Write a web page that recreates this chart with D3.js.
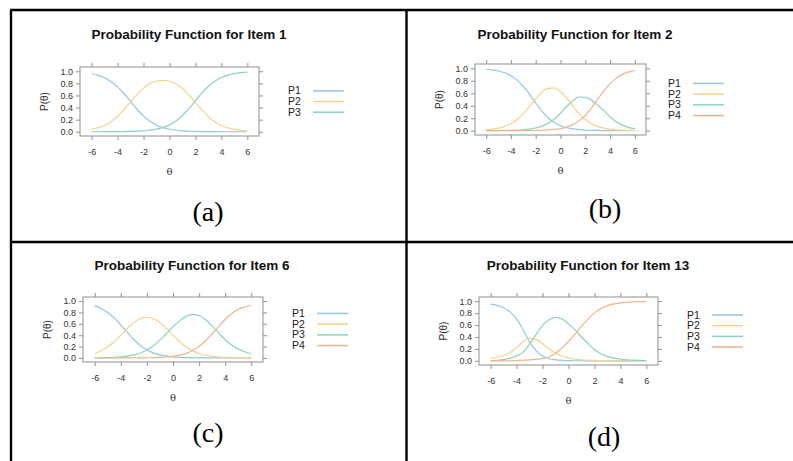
<!DOCTYPE html>
<html>
<head>
<meta charset="utf-8">
<script src="https://cdn.jsdelivr.net/npm/d3@7"></script>
<style>
  body { margin: 0; background: #fff; }
  svg { display: block; }
</style>
</head>
<body>
<div id="chart"></div>
<script>
// values (theta grid in steps of 0.5)
const theta = [-6, -5.5, -5, -4.5, -4, -3.5, -3, -2.5, -2, -1.5, -1, -0.5, 0,
               0.5, 1, 1.5, 2, 2.5, 3, 3.5, 4, 4.5, 5, 5.5, 6];
const seriesNames = ["P1", "P2", "P3", "P4"];
const itemNumbers = [1, 2, 6, 13];
const captions = ["(a)", "(b)", "(c)", "(d)"];
const xTicks = [-6, -4, -2, 0, 2, 4, 6];
const yTicks = [0, 0.2, 0.4, 0.6, 0.8, 1.0];

const item1 = [
  [0.959, 0.932, 0.891, 0.828, 0.741, 0.628, 0.5, 0.372, 0.259, 0.172, 0.109, 0.068, 0.041, 0.025, 0.015, 0.009, 0.005, 0.003, 0.002, 0.001, 0.001, 0, 0, 0, 0],
  [0.041, 0.068, 0.108, 0.171, 0.257, 0.369, 0.494, 0.619, 0.725, 0.8, 0.835, 0.848, 0.835, 0.79, 0.716, 0.607, 0.482, 0.356, 0.247, 0.163, 0.104, 0.064, 0.039, 0.023, 0.014],
  [0, 0, 0.001, 0.001, 0.002, 0.003, 0.006, 0.009, 0.016, 0.026, 0.043, 0.071, 0.114, 0.179, 0.269, 0.384, 0.513, 0.641, 0.751, 0.836, 0.896, 0.936, 0.961, 0.977, 0.986]
];
const item2 = [
  [0.986, 0.976, 0.958, 0.929, 0.883, 0.811, 0.71, 0.583, 0.444, 0.314, 0.207, 0.13, 0.078, 0.046, 0.027, 0.016, 0.009, 0.005, 0.003, 0.002, 0.001, 0.001, 0, 0, 0],
  [0.013, 0.023, 0.04, 0.068, 0.112, 0.18, 0.274, 0.39, 0.51, 0.62, 0.68, 0.685, 0.625, 0.52, 0.39, 0.274, 0.18, 0.112, 0.068, 0.04, 0.023, 0.013, 0.008, 0.004, 0.003],
  [0.001, 0.001, 0.002, 0.003, 0.005, 0.008, 0.014, 0.025, 0.043, 0.072, 0.119, 0.187, 0.28, 0.387, 0.48, 0.54, 0.535, 0.49, 0.41, 0.322, 0.222, 0.143, 0.088, 0.053, 0.031],
  [0, 0, 0, 0, 0, 0.001, 0.001, 0.002, 0.004, 0.006, 0.011, 0.02, 0.034, 0.057, 0.096, 0.157, 0.246, 0.364, 0.5, 0.637, 0.754, 0.843, 0.904, 0.943, 0.966]
];
const item6 = [
  [0.918, 0.869, 0.797, 0.699, 0.578, 0.448, 0.324, 0.221, 0.144, 0.09, 0.056, 0.034, 0.02, 0.012, 0.007, 0.004, 0.003, 0.002, 0.001, 0.001, 0, 0, 0, 0, 0],
  [0.08, 0.127, 0.196, 0.29, 0.402, 0.519, 0.62, 0.689, 0.713, 0.689, 0.62, 0.519, 0.402, 0.29, 0.196, 0.127, 0.08, 0.049, 0.029, 0.018, 0.011, 0.006, 0.004, 0.002, 0.001],
  [0.002, 0.004, 0.007, 0.012, 0.02, 0.033, 0.054, 0.088, 0.14, 0.215, 0.313, 0.43, 0.548, 0.65, 0.73, 0.765, 0.745, 0.67, 0.56, 0.44, 0.32, 0.23, 0.16, 0.11, 0.075],
  [0, 0, 0, 0, 0.001, 0.001, 0.001, 0.002, 0.004, 0.006, 0.011, 0.018, 0.03, 0.05, 0.082, 0.131, 0.203, 0.302, 0.422, 0.552, 0.676, 0.779, 0.856, 0.895, 0.925]
];
const item13 = [
  [0.95, 0.93, 0.89, 0.82, 0.7, 0.52, 0.32, 0.17, 0.08, 0.035, 0.015, 0.006, 0.003, 0.001, 0.001, 0, 0, 0, 0, 0, 0, 0, 0, 0, 0],
  [0.045, 0.06, 0.09, 0.14, 0.22, 0.32, 0.375, 0.36, 0.29, 0.2, 0.13, 0.08, 0.05, 0.03, 0.018, 0.01, 0.006, 0.004, 0.002, 0.001, 0.001, 0, 0, 0, 0],
  [0.005, 0.01, 0.02, 0.04, 0.08, 0.145, 0.28, 0.44, 0.595, 0.69, 0.73, 0.7, 0.62, 0.52, 0.4, 0.29, 0.19, 0.12, 0.075, 0.045, 0.03, 0.018, 0.012, 0.008, 0.005],
  [0, 0, 0, 0.001, 0.005, 0.01, 0.015, 0.025, 0.04, 0.065, 0.125, 0.214, 0.327, 0.449, 0.581, 0.7, 0.804, 0.877, 0.925, 0.954, 0.97, 0.981, 0.988, 0.992, 0.995]
];
const items = [item1, item2, item6, item13];

const colors = ["#93c5e6", "#f5d38a", "#88d5b8", "#f2b18e"];

// where each panel sits: plot box [left, top, width, height]
const layout = [
  { box: [80, 67, 179, 69], titleX: 189, titleY: 39, legX: 288, capX: 208, capY: 221 },
  { box: [475, 64, 171, 71], titleX: 575, titleY: 39, legX: 668, capX: 605, capY: 218 },
  { box: [83, 297, 180, 65], titleX: 192, titleY: 270, legX: 292, capX: 208, capY: 442 },
  { box: [479, 297, 179, 68], titleX: 588, titleY: 270, legX: 687, capX: 604, capY: 446 }
];

const W = 793, H = 461;
const svg = d3.select("#chart").append("svg")
  .attr("width", W)
  .attr("height", H)
  .style("background", "#fff");

// table lines
const tableLines = [
  [10, 10, 793, 10],
  [11, 10, 11, 461],
  [406.5, 10, 406.5, 461],
  [11, 242, 793, 242]
];
svg.selectAll(".tline")
  .data(tableLines)
  .enter().append("line")
  .attr("x1", d => d[0]).attr("y1", d => d[1])
  .attr("x2", d => d[2]).attr("y2", d => d[3])
  .attr("stroke", "#000")
  .attr("stroke-width", 2.4);

const frameCol = "#9a9a9a";
const labelCol = "#333";

for (let i = 0; i < items.length; i++) {
  const L = layout[i];
  const [bx, by, bw, bh] = L.box;
  const data = items[i];

  const x = d3.scaleLinear().domain([-6.9, 6.9]).range([bx, bx + bw]);
  const y = d3.scaleLinear().domain([-0.07, 1.07]).range([by + bh, by]);

  const g = svg.append("g");

  // title
  g.append("text")
    .attr("x", L.titleX).attr("y", L.titleY)
    .attr("text-anchor", "middle")
    .style("font-family", "'Liberation Sans', Arial, sans-serif")
    .style("font-weight", "bold")
    .style("font-size", "13.5px")
    .attr("fill", "#111")
    .text("Probability Function for Item " + itemNumbers[i]);

  // axes (lattice style: labels bottom/left, ticks all round)
  const axB = g.append("g").attr("transform", "translate(0," + (by + bh) + ")")
    .call(d3.axisBottom(x).tickValues(xTicks).tickSize(4).tickPadding(9).tickFormat(d => String(d)));
  const axT = g.append("g").attr("transform", "translate(0," + by + ")")
    .call(d3.axisTop(x).tickValues(xTicks).tickSize(4).tickFormat(""));
  const axL = g.append("g").attr("transform", "translate(" + bx + ",0)")
    .call(d3.axisLeft(y).tickValues(yTicks).tickSize(4).tickPadding(3).tickFormat(d3.format(".1f")));
  const axR = g.append("g").attr("transform", "translate(" + (bx + bw) + ",0)")
    .call(d3.axisRight(y).tickValues(yTicks).tickSize(4).tickFormat(""));

  [axB, axT, axL, axR].forEach(a => {
    a.select(".domain").remove();
    a.selectAll("line").attr("stroke", frameCol).attr("stroke-width", 1.1);
    a.selectAll("text")
      .attr("fill", labelCol)
      .style("font-family", "'Liberation Sans', Arial, sans-serif")
      .style("font-size", "9px");
  });

  // plot frame
  g.append("rect")
    .attr("x", bx).attr("y", by)
    .attr("width", bw).attr("height", bh)
    .attr("fill", "none")
    .attr("stroke", frameCol)
    .attr("stroke-width", 1.1);

  // curves
  const line = d3.line()
    .x((d, j) => x(theta[j]))
    .y(d => y(d))
    .curve(d3.curveMonotoneX);

  for (let k = 0; k < data.length; k++) {
    g.append("path")
      .attr("d", line(data[k]))
      .attr("fill", "none")
      .attr("stroke", colors[k])
      .attr("stroke-width", 1.2);
  }

  // axis titles
  g.append("text")
    .attr("transform", "translate(" + (bx - 36) + "," + (by + bh / 2) + ") rotate(-90)")
    .attr("text-anchor", "middle")
    .attr("dy", "0.35em")
    .style("font-family", "'Liberation Sans', Arial, sans-serif")
    .style("font-size", "10px")
    .attr("fill", labelCol)
    .text("P(θ)");

  g.append("text")
    .attr("x", bx + bw / 2).attr("y", by + bh + 39)
    .attr("text-anchor", "middle")
    .style("font-family", "'DejaVu Serif', serif")
    .style("font-size", "10px")
    .attr("fill", labelCol)
    .text("θ");

  // legend, centred on the box
  const step = 10.7;
  const ly0 = by + bh / 2 - (data.length - 1) * step / 2;
  for (let k = 0; k < data.length; k++) {
    const ly = ly0 + k * step;
    g.append("text")
      .attr("x", L.legX).attr("y", ly + 3.6)
      .style("font-family", "'Liberation Sans', Arial, sans-serif")
      .style("font-size", "10.5px")
      .attr("fill", "#222")
      .text(seriesNames[k]);
    g.append("line")
      .attr("x1", L.legX + 25).attr("x2", L.legX + 56)
      .attr("y1", ly).attr("y2", ly)
      .attr("stroke", colors[k])
      .attr("stroke-width", 1.5);
  }

  // caption
  g.append("text")
    .attr("x", L.capX).attr("y", L.capY)
    .attr("text-anchor", "middle")
    .style("font-family", "'Liberation Serif', 'Times New Roman', serif")
    .style("font-size", "28px")
    .attr("fill", "#000")
    .text(captions[i]);
}
</script>
</body>
</html>
